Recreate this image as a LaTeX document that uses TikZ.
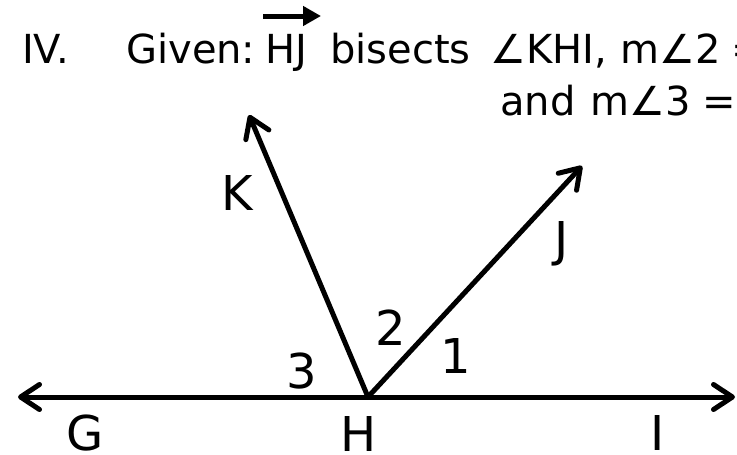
\documentclass[tikz,border=0pt]{standalone}
\usepackage{fontspec}
\setmainfont{DejaVu Sans}
\usetikzlibrary{arrows.meta}
\begin{document}
\begin{tikzpicture}[x=1pt,y=-1pt,
  hdr/.style={anchor=base west,inner sep=0pt,font=\fontsize{40}{48}\selectfont},
  lbl/.style={anchor=base,inner sep=0pt,font=\fontsize{48}{56}\selectfont},
  ray/.style={line width=5pt,line cap=round,-{Straight Barb[length=19pt,width=25pt,round]}},
  vecarrow/.style={line width=5pt,-{Triangle[length=18pt,width=19pt]}}]
\useasboundingbox (0,0) rectangle (737,455);
% header text
\node[hdr] (iv) at (22,63) {IV.};
\node[hdr] (given) at (126,63) {Given:};
\node[hdr] (hj) at (265,63) {HJ};
\node[hdr] (bis) at (330,63) {bisects};
\node[hdr] (khi) at (490,63) {∠KHI,};
\node[hdr] (m2) at (620,63) {m∠2};
\node[hdr] (eq1) at (731,63) {=};
\node[hdr] (and) at (500,115) {and};
\node[hdr] (m3) at (590,115) {m∠3};
\node[hdr] (eq2) at (702,115) {=};
\coordinate (vs) at (263,16);
\coordinate (ve) at (321,16);
\draw[vecarrow] (vs) -- (ve);
% geometry
\coordinate (H) at (368,397);
\coordinate (Gt) at (18,397);
\coordinate (It) at (735,397);
\coordinate (Kt) at (249,115);
\coordinate (Jt) at (582,166);
\draw[ray] (H) -- (Gt);
\draw[ray] (H) -- (It);
\draw[ray] (H) -- (Kt);
\draw[ray] (H) -- (Jt);
% labels
\node[lbl] (K) at (237,210) {K};
\node[lbl] (J) at (562,256) {J};
\node[lbl] (G) at (85,450) {G};
\node[lbl] (Hl) at (359,451) {H};
\node[lbl] (I) at (658,450) {I};
\node[lbl] (n3) at (302,388) {3};
\node[lbl] (n2) at (391,345) {2};
\node[lbl] (n1) at (456,373) {1};
\end{tikzpicture}
\end{document}
